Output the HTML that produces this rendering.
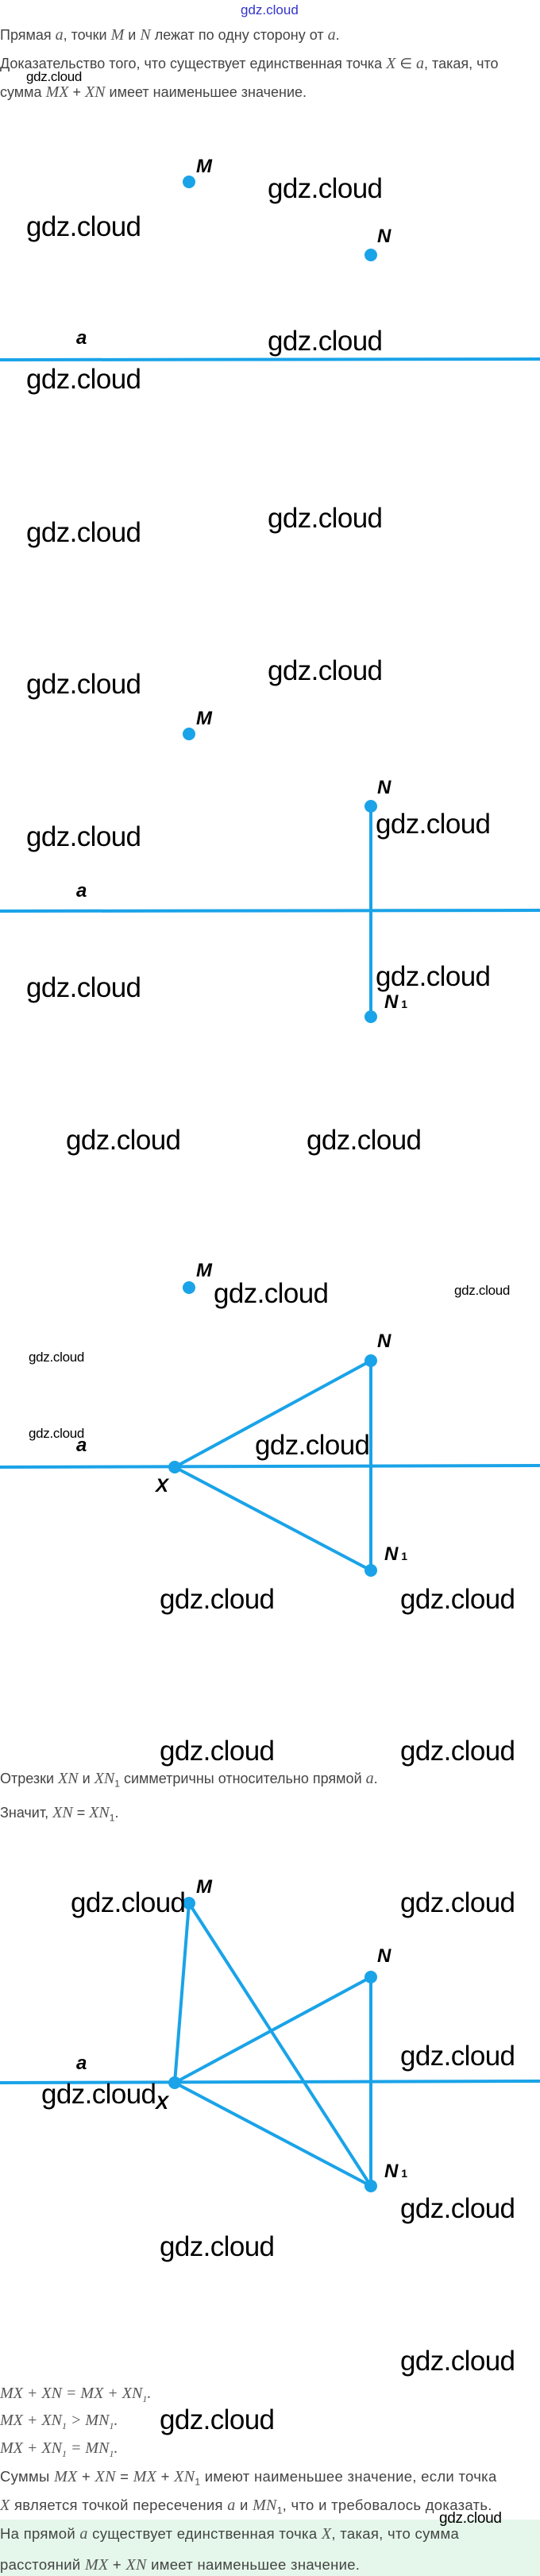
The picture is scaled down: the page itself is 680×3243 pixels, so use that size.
<!DOCTYPE html>
<html><head><meta charset="utf-8"><style>
body{margin:0;width:680px;height:3243px;position:relative;background:#fff;font-family:"Liberation Sans",sans-serif;overflow:hidden}
.t{position:absolute;left:0;font-size:18px;color:#444;white-space:nowrap;line-height:1}
.m{font-family:"Liberation Serif",serif;font-style:italic;font-size:20px;color:#555}
.g{position:absolute;font-size:35px;line-height:1;color:#000;letter-spacing:-0.6px;white-space:nowrap}
.s{position:absolute;font-size:17px;line-height:1;color:#000;letter-spacing:-0.3px}
.l{position:absolute;font-weight:bold;font-style:italic;font-size:24px;line-height:1;color:#000}
svg{position:absolute;left:0}
</style></head><body>
<div style="position:absolute;left:303px;top:4px;font-size:17px;color:#33c;line-height:1">gdz.cloud</div>
<div class="t" style="top:34px">Прямая <span class="m">a</span>, точки <span class="m">M</span> и <span class="m">N</span> лежат по одну сторону от <span class="m">a</span>.</div>
<div class="t" style="top:70px">Доказательство того, что существует единственная точка <span class="m">X</span> ∈ <span class="m">a</span>, такая, что</div>
<div class="s" style="left:33px;top:88px">gdz.cloud</div>
<div class="t" style="top:106px">сумма <span class="m">MX</span> + <span class="m">XN</span> имеет наименьшее значение.</div>

<svg width="680" height="3243" style="top:0">
<g stroke="#1aa3e8" stroke-width="4" fill="#1aa3e8">
<line x1="0" y1="453" x2="680" y2="452"/>
<circle cx="238" cy="229" r="6"/><circle cx="467" cy="321" r="6"/>
<line x1="0" y1="1147" x2="680" y2="1146"/>
<line x1="467" y1="1015" x2="467" y2="1280"/>
<circle cx="238" cy="924" r="6"/><circle cx="467" cy="1015" r="6"/><circle cx="467" cy="1280" r="6"/>
<line x1="0" y1="1847" x2="680" y2="1845"/>
<line x1="220" y1="1847" x2="467" y2="1713"/><line x1="220" y1="1847" x2="467" y2="1977"/><line x1="467" y1="1713" x2="467" y2="1977"/>
<circle cx="238" cy="1621" r="6"/><circle cx="467" cy="1713" r="6"/><circle cx="467" cy="1977" r="6"/><circle cx="220" cy="1847" r="6"/>
<line x1="0" y1="2622" x2="680" y2="2620"/>
<line x1="238" y1="2396" x2="220" y2="2622"/><line x1="238" y1="2396" x2="467" y2="2752"/>
<line x1="220" y1="2622" x2="467" y2="2489"/><line x1="220" y1="2622" x2="467" y2="2752"/><line x1="467" y1="2489" x2="467" y2="2752"/>
<circle cx="238" cy="2396" r="6"/><circle cx="467" cy="2489" r="6"/><circle cx="467" cy="2752" r="6"/><circle cx="220" cy="2622" r="6"/>
</g></svg>

<div class="l" style="left:247px;top:198px">M</div>
<div class="l" style="left:475px;top:286px">N</div>
<div class="l" style="left:96px;top:414px">a</div>
<div class="g" style="left:337px;top:220px">gdz.cloud</div>
<div class="g" style="left:33px;top:268px">gdz.cloud</div>
<div class="g" style="left:337px;top:412px">gdz.cloud</div>
<div class="g" style="left:33px;top:460px">gdz.cloud</div>
<div class="g" style="left:33px;top:653px">gdz.cloud</div>
<div class="g" style="left:337px;top:635px">gdz.cloud</div>
<div class="g" style="left:33px;top:844px">gdz.cloud</div>
<div class="g" style="left:337px;top:827px">gdz.cloud</div>

<div class="l" style="left:247px;top:893px">M</div>
<div class="l" style="left:475px;top:980px">N</div>
<div class="l" style="left:96px;top:1110px">a</div>
<div class="l" style="left:484px;top:1250px">N<span style="font-size:14px;font-style:normal">&nbsp;1</span></div>
<div class="g" style="left:473px;top:1020px">gdz.cloud</div>
<div class="g" style="left:33px;top:1036px">gdz.cloud</div>
<div class="g" style="left:33px;top:1226px">gdz.cloud</div>
<div class="g" style="left:473px;top:1212px">gdz.cloud</div>
<div class="g" style="left:83px;top:1418px">gdz.cloud</div>
<div class="g" style="left:386px;top:1418px">gdz.cloud</div>

<div class="l" style="left:247px;top:1588px">M</div>
<div class="g" style="left:269px;top:1611px">gdz.cloud</div>
<div class="s" style="left:572px;top:1616px">gdz.cloud</div>
<div class="l" style="left:475px;top:1677px">N</div>
<div class="s" style="left:36px;top:1700px">gdz.cloud</div>
<div class="s" style="left:36px;top:1796px">gdz.cloud</div>
<div class="l" style="left:96px;top:1808px">a</div>
<div class="g" style="left:321px;top:1802px">gdz.cloud</div>
<div class="l" style="left:196px;top:1859px">X</div>
<div class="l" style="left:484px;top:1945px">N<span style="font-size:14px;font-style:normal">&nbsp;1</span></div>
<div class="g" style="left:201px;top:1996px">gdz.cloud</div>
<div class="g" style="left:504px;top:1996px">gdz.cloud</div>
<div class="g" style="left:201px;top:2187px">gdz.cloud</div>
<div class="g" style="left:504px;top:2187px">gdz.cloud</div>
<div class="t" style="top:2229px">Отрезки <span class="m">XN</span> и <span class="m">XN</span><sub style="font-size:12px">1</sub> симметричны относительно прямой <span class="m">a</span>.</div>
<div class="t" style="top:2272px">Значит, <span class="m">XN</span> = <span class="m">XN</span><sub style="font-size:12px">1</sub>.</div>

<div class="l" style="left:247px;top:2364px">M</div>
<div class="g" style="left:89px;top:2378px">gdz.cloud</div>
<div class="g" style="left:504px;top:2378px">gdz.cloud</div>
<div class="l" style="left:475px;top:2451px">N</div>
<div class="g" style="left:504px;top:2571px">gdz.cloud</div>
<div class="l" style="left:96px;top:2586px">a</div>
<div class="g" style="left:52px;top:2619px">gdz.cloud</div>
<div class="l" style="left:196px;top:2636px">X</div>
<div class="l" style="left:484px;top:2722px">N<span style="font-size:14px;font-style:normal">&nbsp;1</span></div>
<div class="g" style="left:504px;top:2763px">gdz.cloud</div>
<div class="g" style="left:201px;top:2811px">gdz.cloud</div>
<div class="g" style="left:504px;top:2955px">gdz.cloud</div>

<div class="t m" style="top:3003px">MX + XN = MX + XN<sub style="font-size:12px">1</sub>.</div>
<div class="t m" style="top:3037px">MX + XN<sub style="font-size:12px">1</sub> &gt; MN<sub style="font-size:12px">1</sub>.</div>
<div class="g" style="left:201px;top:3029px">gdz.cloud</div>
<div class="t m" style="top:3072px">MX + XN<sub style="font-size:12px">1</sub> = MN<sub style="font-size:12px">1</sub>.</div>
<div class="t" style="top:3108px;font-size:18.5px;letter-spacing:0.3px">Суммы <span class="m">MX</span> + <span class="m">XN</span> = <span class="m">MX</span> + <span class="m">XN</span><sub style="font-size:12px">1</sub> имеют наименьшее значение, если точка</div>
<div class="t" style="top:3144px;font-size:18.5px;letter-spacing:0.3px"><span class="m">X</span> является точкой пересечения <span class="m">a</span> и <span class="m">MN</span><sub style="font-size:12px">1</sub>, что и требовалось доказать.</div>
<div style="position:absolute;left:0;top:3172px;width:680px;height:71px;background:#e4f7ea"></div>
<div class="s" style="left:553px;top:3161px;font-size:19px">gdz.cloud</div>
<div class="t" style="top:3180px;font-size:18.5px;letter-spacing:0.3px">На прямой <span class="m">a</span> существует единственная точка <span class="m">X</span>, такая, что сумма</div>
<div class="t" style="top:3219px;font-size:18.5px;letter-spacing:0.3px">расстояний <span class="m">MX</span> + <span class="m">XN</span> имеет наименьшее значение.</div>
</body></html>
